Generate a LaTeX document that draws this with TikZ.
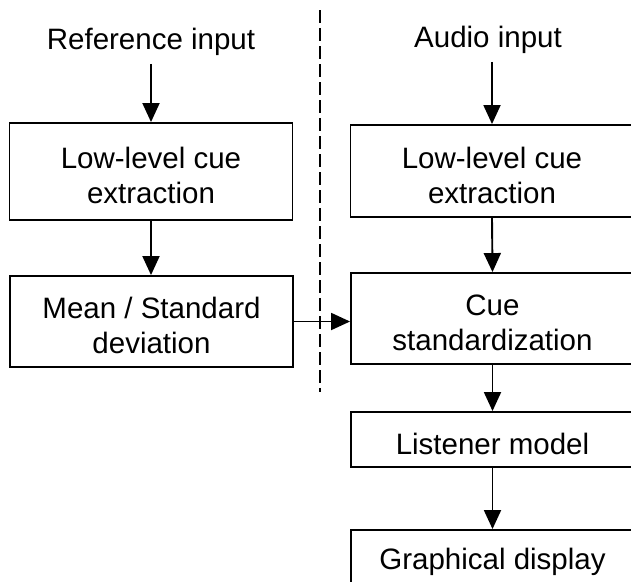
\documentclass[tikz,border=0pt]{standalone}
\usepackage{fontspec}
\setmainfont{Liberation Sans}
\usetikzlibrary{arrows.meta}
\begin{document}
\begin{tikzpicture}[x=1pt,y=-1pt,
  txt/.style={font=\fontsize{29.5}{35}\selectfont},
  box/.style={draw, line width=1.9pt, minimum width=283pt, inner sep=0pt},
  boxtext/.style={txt, align=center, inner sep=0pt, yshift=-4pt},
  lbl/.style={txt, inner sep=8pt},
  arr/.style={line width=1.9pt, -{Triangle[length=19pt,width=17pt]}},
  divider/.style={line width=1.5pt, dash pattern=on 13pt off 5pt}]
\useasboundingbox (0,0) rectangle (631,581);
\clip (0,0) rectangle (631,581);

% left column: reference path
\node[lbl] (ref) at (151,42) {Reference input};
\node[box, minimum height=97pt, label={[boxtext]center:Low-level cue\\extraction}] (lcue) at (151,171.5) {};
\node[box, minimum height=91pt, label={[boxtext]center:Mean / Standard\\deviation}] (stat) at (151.5,321.5) {};

% right column: audio path
\node[lbl] (aud) at (488,40) {Audio input};
\node[box, minimum height=92pt, label={[boxtext]center:Low-level cue\\extraction}] (rcue) at (492,171) {};
\node[box, minimum height=91pt, label={[boxtext]center:Cue\\standardization}] (std) at (492.5,318.5) {};
\node[box, minimum height=55pt, label={[boxtext]center:Listener model}] (lis) at (492.5,439.5) {};
\node[box, minimum height=56pt, label={[boxtext]center:Graphical display}] (disp) at (492.5,558) {};

% divider between the two paths
\coordinate (dtop) at (320,10);
\coordinate (dbot) at (320,392);
\draw[divider] (dtop) -- (dbot);

% connectors
\draw[arr] (ref.south) -- (lcue.north);
\draw[arr] (lcue.south) -- (lcue.south |- stat.north);
\draw[arr] (stat.east) -- (stat.east -| std.west);
\draw[arr] (aud.south -| rcue.north) -- (rcue.north);
\draw[arr] (rcue.south) -- (std.north);
\draw[arr] (std.south) -- (lis.north);
\draw[arr] (lis.south) -- (disp.north);
\end{tikzpicture}
\end{document}
